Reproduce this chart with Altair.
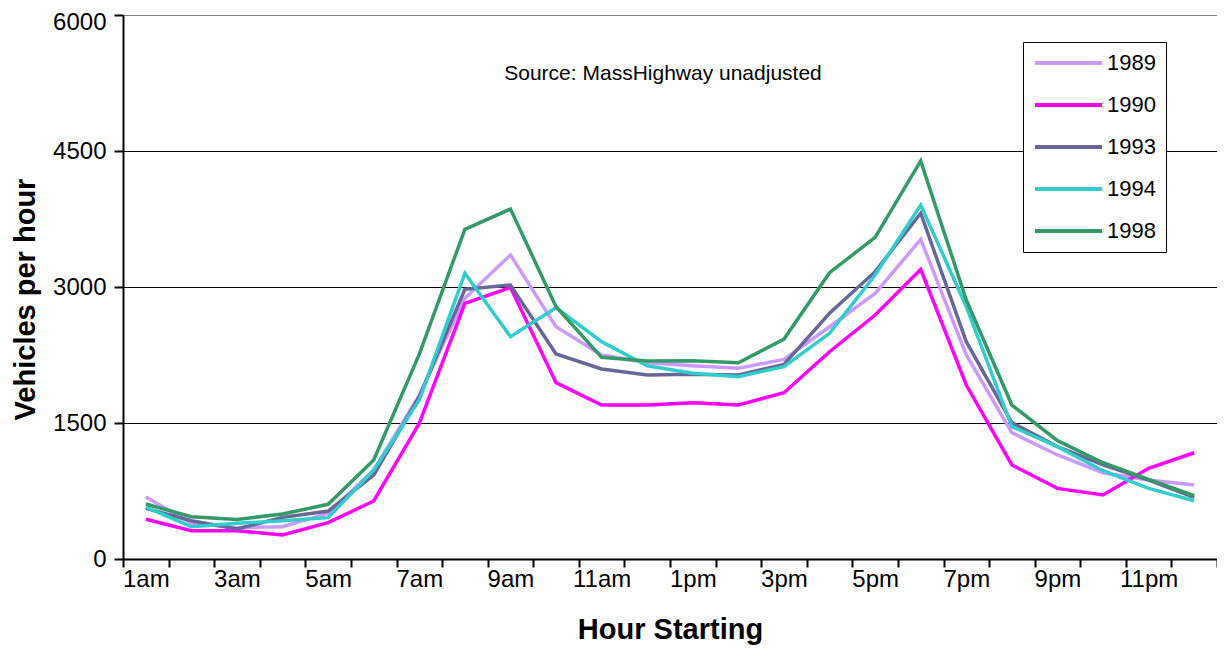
import altair as alt
import pandas as pd

hours = ["1am", "2am", "3am", "4am", "5am", "6am", "7am", "8am", "9am", "10am", "11am", "12pm",
         "1pm", "2pm", "3pm", "4pm", "5pm", "6pm", "7pm", "8pm", "9pm", "10pm", "11pm", "12am"]
shown_labels = hours[::2]

years = ["1989", "1990", "1993", "1994", "1998"]
colors = ["#CC99FF", "#FF00FF", "#666699", "#33CCCC", "#339966"]

v1989 = [684, 397, 345, 356, 504, 981, 1808, 2875, 3353, 2562, 2250, 2165,
         2132, 2103, 2202, 2562, 2930, 3526, 2250, 1393, 1147, 952, 871, 816]
v1990 = [438, 312, 312, 265, 401, 640, 1496, 2819, 2996, 1945, 1698, 1698,
         1724, 1698, 1834, 2286, 2691, 3195, 1919, 1037, 779, 706, 1000, 1172]
v1993 = [559, 422, 331, 459, 529, 926, 1790, 2974, 3022, 2261, 2096, 2029,
         2037, 2029, 2147, 2710, 3169, 3813, 2397, 1504, 1239, 1037, 871, 680]
v1994 = [573, 356, 393, 422, 456, 981, 1753, 3151, 2452, 2772, 2397, 2132,
         2048, 2011, 2121, 2489, 3132, 3904, 2783, 1460, 1239, 974, 779, 643]
v1998 = [606, 467, 437, 496, 603, 1092, 2260, 3636, 3860, 2783, 2224, 2184,
         2187, 2165, 2426, 3158, 3548, 4390, 2857, 1698, 1305, 1062, 879, 698]

y_ticks = [0, 1500, 3000, 4500, 6000]
source_note = "Source:  MassHighway unadjusted"

series = dict(zip(years, [v1989, v1990, v1993, v1994, v1998]))
rows = []
for yr, vals in series.items():
    for h, v in zip(hours, vals):
        rows.append({"hour": h, "year": yr, "vph": v})
df = pd.DataFrame(rows)

FONT = "Liberation Sans, Arial, sans-serif"
label_list = "[" + ",".join("'%s'" % s for s in shown_labels) + "]"

lines = alt.Chart(df).mark_line(strokeWidth=3.5).encode(
    x=alt.X("hour:N", sort=hours,
            scale=alt.Scale(type="band", paddingInner=0, paddingOuter=0),
            axis=alt.Axis(title="Hour Starting", labelAngle=0, tickBand="extent",
                          labelExpr="indexof(%s, datum.value) >= 0 ? datum.value : ''" % label_list,
                          labelOverlap=False, labelFontSize=24, labelPadding=0,
                          titleFontSize=29, titleFontWeight="bold", titlePadding=24,
                          tickSize=8, tickWidth=2, tickColor="black",
                          domainColor="black", domainWidth=2, grid=False,
                          labelColor="black", titleColor="black",
                          labelFont=FONT, titleFont=FONT)),
    y=alt.Y("vph:Q",
            scale=alt.Scale(domain=[0, 6000], nice=False),
            axis=alt.Axis(title="Vehicles per hour", values=y_ticks, format="d",
                          labelFontSize=24, labelPadding=8, titleFontSize=29,
                          titleFontWeight="bold", titlePadding=12, titleY=284,
                          labelOffset={"condition": {"test": "datum.value == 6000", "value": 7},
                                       "value": 0},
                          tickSize=9, tickWidth=2, tickColor="black",
                          domainColor="black", domainWidth=2,
                          grid=True, gridWidth=1, gridOpacity=1,
                          gridColor={"condition": {"test": "datum.value == 6000", "value": "#808080"},
                                     "value": "black"},
                          labelColor="black", titleColor="black",
                          labelFont=FONT, titleFont=FONT)),
    color=alt.Color("year:N", sort=years,
                    scale=alt.Scale(domain=years, range=colors),
                    legend=alt.Legend(title=None, orient="none", legendX=900, legendY=27,
                                      symbolType="stroke", symbolSize=4489,
                                      symbolStrokeWidth=4, clipHeight=22, rowPadding=20,
                                      labelFontSize=22, labelOffset=3, labelFont=FONT,
                                      labelColor="black", padding=10,
                                      strokeColor="black", fillColor="white")),
)

note = alt.Chart(pd.DataFrame({"t": [source_note]})).mark_text(
    fontSize=21, font=FONT, color="black", align="center", baseline="middle"
).encode(text="t:N", x=alt.value(540), y=alt.value(59))

chart = alt.layer(lines, note).properties(
    width=1094, height=544,
    autosize=alt.AutoSizeParams(type="none"),
    padding={"left": 115, "top": 7, "right": 0, "bottom": 90},
).configure_view(stroke=None).configure(background="white")

chart.save("out.html", embed_options={"renderer": "svg", "actions": False})
